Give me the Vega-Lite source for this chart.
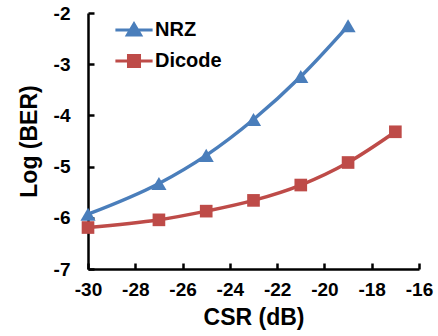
{
  "$schema": "https://vega.github.io/schema/vega-lite/v6.json",
  "width": 331,
  "height": 256,
  "autosize": {"type": "none"},
  "padding": {"left": 88, "top": 13, "right": 19, "bottom": 67},
  "background": "white",
  "config": {
    "view": {"stroke": null},
    "axis": {
      "grid": false,
      "domainColor": "black",
      "domainWidth": 2.5,
      "tickColor": "black",
      "tickWidth": 2.5,
      "tickSize": -6,
      "labelFlush": false,
      "labelOverlap": false,
      "labelFont": "Liberation Sans",
      "labelFontWeight": "bold",
      "labelFontSize": 19,
      "labelColor": "black",
      "titleFont": "Liberation Sans",
      "titleFontWeight": "bold",
      "titleFontSize": 23,
      "titleColor": "black"
    }
  },
  "data": {
    "values": [
      {"series": "NRZ", "csr": -30, "ber": -5.93},
      {"series": "NRZ", "csr": -27, "ber": -5.33},
      {"series": "NRZ", "csr": -25, "ber": -4.78},
      {"series": "NRZ", "csr": -23, "ber": -4.08},
      {"series": "NRZ", "csr": -21, "ber": -3.24},
      {"series": "NRZ", "csr": -19, "ber": -2.25},
      {"series": "Dicode", "csr": -30, "ber": -6.19},
      {"series": "Dicode", "csr": -27, "ber": -6.04},
      {"series": "Dicode", "csr": -25, "ber": -5.87},
      {"series": "Dicode", "csr": -23, "ber": -5.66},
      {"series": "Dicode", "csr": -21, "ber": -5.36},
      {"series": "Dicode", "csr": -19, "ber": -4.92},
      {"series": "Dicode", "csr": -17, "ber": -4.32}
    ]
  },
  "encoding": {
    "x": {
      "field": "csr", "type": "quantitative",
      "scale": {"domain": [-30, -16], "nice": false, "zero": false},
      "axis": {
        "title": "CSR (dB)",
        "values": [-30, -28, -26, -24, -22, -20, -18, -16],
        "labelExpr": "datum.value + ''",
        "labelPadding": 17,
        "titlePadding": 7
      }
    },
    "y": {
      "field": "ber", "type": "quantitative",
      "scale": {"domain": [-7, -2], "nice": false, "zero": false},
      "axis": {
        "title": "Log (BER)",
        "values": [-7, -6, -5, -4, -3, -2],
        "labelExpr": "datum.value + ''",
        "labelPadding": 24,
        "titlePadding": 12
      }
    }
  },
  "layer": [
    {
      "mark": {"type": "line", "interpolate": "monotone", "strokeWidth": 3.5},
      "encoding": {
        "color": {
          "field": "series", "type": "nominal",
          "scale": {"domain": ["NRZ", "Dicode"], "range": ["#4A7EBB", "#BE4B48"]},
          "legend": {
            "title": null,
            "orient": "none",
            "legendX": 36,
            "legendY": 7,
            "padding": 0,
            "symbolSize": 144,
            "symbolStrokeWidth": 3.5,
            "labelFont": "Liberation Sans",
            "labelFontWeight": "bold",
            "labelFontSize": 20,
            "labelColor": "black",
            "labelOffset": 11,
            "rowPadding": 7,
            "encode": {
              "symbols": {
                "update": {
                  "shape": {"signal": "datum.value === 'NRZ' ? 'M-3.1,0L3.1,0M-1.1,0.85L1.1,0.85L0,-1Z' : 'M-3.1,0L3.1,0M-0.92,-0.92L0.92,-0.92L0.92,0.92L-0.92,0.92Z'"},
                  "fill": {"signal": "datum.value === 'NRZ' ? '#4A7EBB' : '#BE4B48'"},
                  "stroke": {"signal": "datum.value === 'NRZ' ? '#4A7EBB' : '#BE4B48'"},
                  "fillOpacity": {"value": 1},
                  "strokeWidth": {"value": 3},
                  "opacity": {"value": 1}
                }
              }
            }
          }
        }
      }
    },
    {
      "transform": [{"filter": "datum.series === 'NRZ'"}],
      "mark": {"type": "point", "shape": "triangle-up", "filled": true, "opacity": 1, "size": 230, "color": "#4A7EBB"}
    },
    {
      "transform": [{"filter": "datum.series === 'Dicode'"}],
      "mark": {"type": "point", "shape": "square", "filled": true, "opacity": 1, "size": 160, "color": "#BE4B48"}
    }
  ]
}
